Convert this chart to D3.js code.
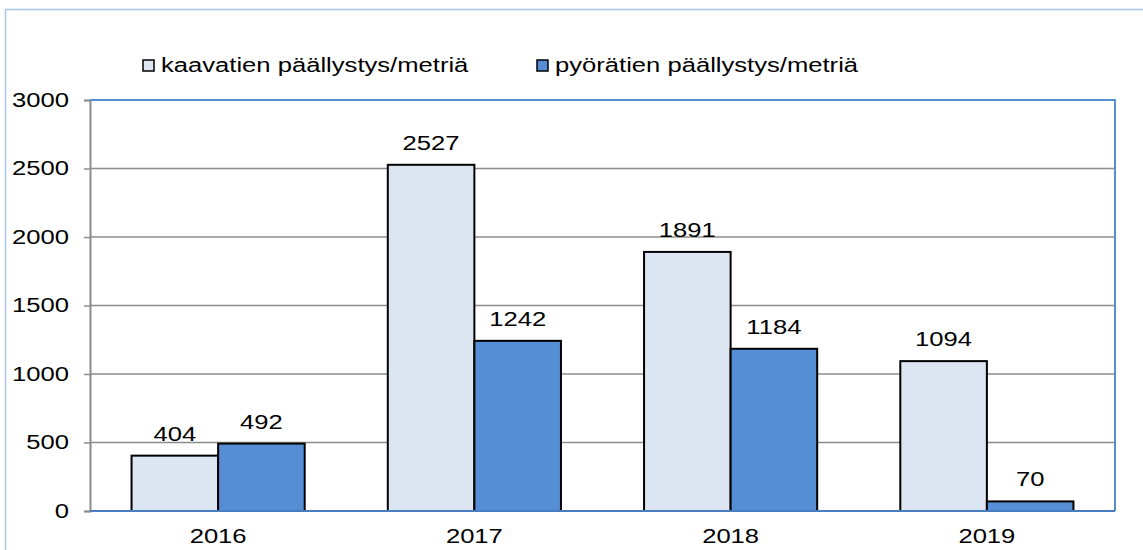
<!DOCTYPE html>
<html>
<head>
<meta charset="utf-8">
<script src="https://cdn.jsdelivr.net/npm/d3@7"></script>
<style>
  body { margin: 0; background: #fff; }
  svg { display: block; font-family: "Liberation Sans", Arial, sans-serif; }
</style>
</head>
<body>
<svg width="1143" height="550"></svg>
<script>
const years = ["2016", "2017", "2018", "2019"];
const seriesNames = ["kaavatien päällystys/metriä", "pyörätien päällystys/metriä"];
const kaavatie = [404, 2527, 1891, 1094];
const pyoratie = [492, 1242, 1184, 70];
const yTicks = [0, 500, 1000, 1500, 2000, 2500, 3000];
const colors = ["#dce6f2", "#558ed5"];

const svg = d3.select("svg");
const plotLeft = 90, plotRight = 1115, plotTop = 100, plotBottom = 511;
const stretchX = 1.28;

// the source text is drawn a bit wide, so widen glyphs to match
function stretch(sel) {
    sel.each(function () {
        const w = this.getComputedTextLength();
        d3.select(this).attr("textLength", w * stretchX).attr("lengthAdjust", "spacingAndGlyphs");
    });
}

// outer frame
svg.append("path")
    .attr("d", `M5.5,550 V9.5 H1143`)
    .attr("fill", "none")
    .attr("stroke", "#a9c4eb")
    .attr("stroke-width", 1.5);

const x = d3.scaleBand().domain(years).range([plotLeft, plotRight]);
const inner = d3.scaleBand().domain([0, 1]).range([0, x.bandwidth()]).paddingOuter(0.48);
const y = d3.scaleLinear().domain([0, 3000]).range([plotBottom, plotTop]);

// gridlines
svg.append("g")
    .selectAll("line")
    .data(yTicks.filter(d => d > 0 && d < 3000))
    .join("line")
    .attr("x1", plotLeft).attr("x2", plotRight)
    .attr("y1", d => y(d)).attr("y2", d => y(d))
    .attr("stroke", "#8c8c8c")
    .attr("stroke-width", 1.5);

// y axis
const yAxis = svg.append("g")
    .attr("transform", `translate(${plotLeft},0)`)
    .call(d3.axisLeft(y).tickValues(yTicks).tickFormat(d3.format("d")).tickSize(6).tickPadding(15));
yAxis.select(".domain").attr("stroke", "#8c8c8c").attr("stroke-width", 2);
yAxis.selectAll(".tick line").attr("stroke", "#8c8c8c").attr("stroke-width", 1.5);
yAxis.selectAll(".tick text").attr("font-size", 20).attr("fill", "#000")
    .attr("font-family", "Liberation Sans, Arial, sans-serif")
    .call(stretch);

// plot frame top + right
svg.append("path")
    .attr("d", `M${plotLeft},${plotTop} H${plotRight} V${plotBottom}`)
    .attr("fill", "none")
    .attr("stroke", "#558ed5")
    .attr("stroke-width", 2);

// bars
const data = years.map((yr, i) => ({ year: yr, values: [kaavatie[i], pyoratie[i]] }));
const groups = svg.append("g")
    .selectAll("g")
    .data(data)
    .join("g")
    .attr("transform", d => `translate(${x(d.year)},0)`);

groups.selectAll("rect")
    .data(d => d.values.map((v, k) => ({ k, v })))
    .join("rect")
    .attr("x", d => inner(d.k))
    .attr("width", inner.bandwidth())
    .attr("y", d => y(d.v))
    .attr("height", d => plotBottom - y(d.v))
    .attr("fill", d => colors[d.k])
    .attr("stroke", "#000")
    .attr("stroke-width", 2);

groups.selectAll("text")
    .data(d => d.values.map((v, k) => ({ k, v })))
    .join("text")
    .attr("x", d => inner(d.k) + inner.bandwidth() / 2)
    .attr("y", d => y(d.v) - 15)
    .attr("text-anchor", "middle")
    .attr("font-size", 20)
    .text(d => d.v)
    .call(stretch);

// baseline
svg.append("line")
    .attr("x1", plotLeft).attr("x2", plotRight)
    .attr("y1", plotBottom).attr("y2", plotBottom)
    .attr("stroke", "#4a7cc0")
    .attr("stroke-width", 2);

// x labels
svg.append("g")
    .selectAll("text")
    .data(years)
    .join("text")
    .attr("x", d => x(d) + x.bandwidth() / 2)
    .attr("y", 543)
    .attr("text-anchor", "middle")
    .attr("font-size", 20)
    .text(d => d)
    .call(stretch);

// legend
const legendX = [143, 537];
const legend = svg.append("g")
    .selectAll("g")
    .data(seriesNames)
    .join("g")
    .attr("transform", (d, i) => `translate(${legendX[i]},60)`);
legend.append("rect")
    .attr("width", 11).attr("height", 11)
    .attr("fill", (d, i) => colors[i])
    .attr("stroke", "#000")
    .attr("stroke-width", 1.5);
legend.append("text")
    .attr("x", 18)
    .attr("y", 12)
    .attr("font-size", 20)
    .text(d => d)
    .call(stretch);
</script>
</body>
</html>
